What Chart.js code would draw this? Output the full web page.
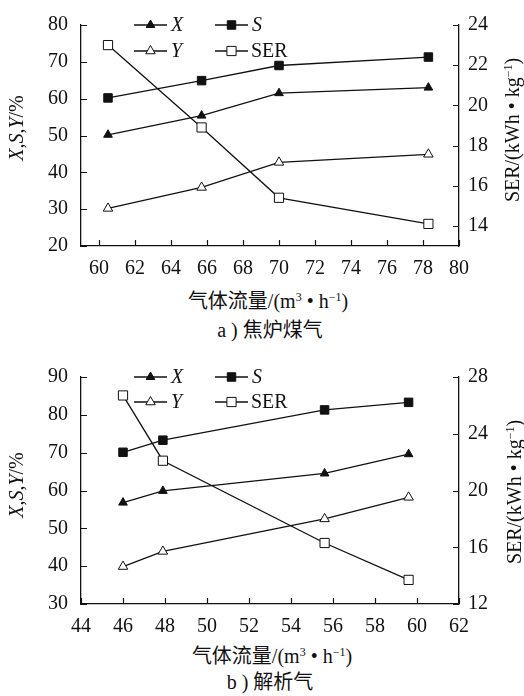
<!DOCTYPE html>
<html>
<head>
<meta charset="utf-8">
<script src="https://cdn.jsdelivr.net/npm/chart.js@4.4.0/dist/chart.umd.min.js"></script>
<style>
  html, body { margin: 0; padding: 0; background: #fff; }
  body { width: 524px; height: 696px; position: relative; overflow: hidden;
         font-family: "Liberation Serif", "Times New Roman", "DejaVu Serif", "Noto Sans CJK SC", serif; color: #111; }
  .box { position: absolute; left: 0; width: 524px; height: 290px; }
  .lbl { position: absolute; font-size: 20px; white-space: nowrap; line-height: 1; }
  .rot { transform: translate(-50%, -50%) rotate(-90deg); }
  .ctr { transform: translate(-50%, -50%); }
  sup { font-size: 60%; vertical-align: 0.55em; line-height: 0; }
</style>
</head>
<body>
<div class="box" style="top:0"><canvas id="chartA"></canvas></div>
<div class="box" style="top:350px"><canvas id="chartB"></canvas></div>

<!-- axis titles and captions -->
<div class="lbl rot" style="left:16px;top:128px"><i>X</i>,<i>S</i>,<i>Y</i>/%</div>
<div class="lbl rot" style="left:512px;top:130px">SER/(kWh • kg<sup>−1</sup>)</div>
<div class="lbl ctr" style="left:268px;top:301px">气体流量/(m<sup>3</sup> • h<sup>−1</sup>)</div>
<div class="lbl ctr" style="left:270px;top:330px">a ) 焦炉煤气</div>

<div class="lbl rot" style="left:16px;top:485px"><i>X</i>,<i>S</i>,<i>Y</i>/%</div>
<div class="lbl rot" style="left:514px;top:492px">SER/(kWh • kg<sup>−1</sup>)</div>
<div class="lbl ctr" style="left:272px;top:656px">气体流量/(m<sup>3</sup> • h<sup>−1</sup>)</div>
<div class="lbl ctr" style="left:270px;top:682px">b ) 解析气</div>

<script>
// a) coke oven gas
const flowA = [60.5, 65.7, 70.0, 78.3];
const xA    = [50.2, 55.4, 61.5, 63.0];
const sA    = [60.2, 64.9, 69.0, 71.3];
const yA    = [30.2, 35.9, 42.7, 44.9];
const serA  = [23.0, 18.9, 15.4, 14.1];
const flowTicksA  = [60, 62, 64, 66, 68, 70, 72, 74, 76, 78, 80];
const leftTicksA  = [20, 30, 40, 50, 60, 70, 80];
const rightTicksA = [14, 16, 18, 20, 22, 24];

// b) desorption gas
const flowB = [46.0, 47.9, 55.6, 59.6];
const xB    = [56.8, 59.9, 64.5, 69.6];
const sB    = [70.1, 73.3, 81.3, 83.3];
const yB    = [39.9, 43.9, 52.5, 58.2];
const serB  = [26.7, 22.1, 16.3, 13.7];
const flowTicksB  = [44, 46, 48, 50, 52, 54, 56, 58, 60, 62];
const leftTicksB  = [30, 40, 50, 60, 70, 80, 90];
const rightTicksB = [12, 16, 20, 24, 28];

const seriesNames = ['X', 'S', 'Y', 'SER'];

const INK = '#111';
const SERIF = '"Liberation Serif", "Times New Roman", "DejaVu Serif", serif';
Chart.defaults.font.family = SERIF;
Chart.defaults.color = INK;

function marker(ctx, style, r, x, y, filled) {
  ctx.beginPath();
  if (style === 'triangle') {
    for (let k = 0; k < 3; k++) {
      const a = k * 2 * Math.PI / 3;
      const px = x + Math.sin(a) * r, py = y - Math.cos(a) * r;
      k ? ctx.lineTo(px, py) : ctx.moveTo(px, py);
    }
    ctx.closePath();
  } else {
    const h = r * Math.SQRT1_2;
    ctx.rect(x - h, y - h, 2 * h, 2 * h);
  }
  ctx.fillStyle = filled ? INK : '#fff';
  ctx.fill();
  ctx.lineWidth = 1;
  ctx.strokeStyle = INK;
  ctx.stroke();
}

// legend drawn inside the plot, two columns
const innerLegend = {
  id: 'innerLegend',
  afterDatasetsDraw(chart, args, opts) {
    const { ctx, chartArea } = chart;
    const cols = [chartArea.left + 53, chartArea.left + 134];
    chart.data.datasets.forEach((ds, i) => {
      const x0 = cols[i % 2];
      const y0 = chartArea.top + Math.floor(i / 2) * opts.rowGap;
      ctx.save();
      ctx.strokeStyle = INK;
      ctx.lineWidth = 1.3;
      ctx.beginPath();
      ctx.moveTo(x0, y0);
      ctx.lineTo(x0 + 33, y0);
      ctx.stroke();
      marker(ctx, ds.pointStyle, ds.pointRadius, x0 + 16.5, y0, ds.pointBackgroundColor === INK);
      const name = seriesNames[i];
      ctx.font = (name === 'SER' ? '' : 'italic ') + '20px ' + SERIF;
      ctx.fillStyle = INK;
      ctx.textBaseline = 'middle';
      ctx.fillText(name, x0 + (name === 'SER' ? 36 : 37), y0 + 1);
      ctx.restore();
    });
  }
};

// short tick marks pointing into the plot
const innerTicks = {
  id: 'innerTicks',
  afterDraw(chart) {
    const { ctx, chartArea, scales } = chart;
    ctx.save();
    ctx.strokeStyle = INK;
    ctx.lineWidth = 1.2;
    ctx.beginPath();
    scales.x.ticks.forEach(t => {
      const p = Math.round(scales.x.getPixelForValue(t.value)) + 0.5;
      ctx.moveTo(p, chartArea.bottom);
      ctx.lineTo(p, chartArea.bottom - 6);
    });
    scales.yL.ticks.forEach(t => {
      const p = Math.round(scales.yL.getPixelForValue(t.value)) + 0.5;
      ctx.moveTo(chartArea.left, p);
      ctx.lineTo(chartArea.left + 6, p);
    });
    scales.yR.ticks.forEach(t => {
      const p = Math.round(scales.yR.getPixelForValue(t.value)) + 0.5;
      ctx.moveTo(chartArea.right, p);
      ctx.lineTo(chartArea.right - 6, p);
    });
    ctx.stroke();
    ctx.restore();
  }
};

function pts(xs, ys) {
  return xs.map((x, i) => ({ x: x, y: ys[i] }));
}

function series(data, style, filled, r, axis) {
  return {
    data: data,
    yAxisID: axis,
    showLine: true,
    borderColor: INK,
    borderWidth: 1.3,
    pointStyle: style,
    pointRadius: r,
    pointHoverRadius: r,
    pointBorderWidth: 1,
    pointBorderColor: INK,
    pointBackgroundColor: filled ? INK : '#fff',
    clip: false
  };
}

function axisStyle(ticks, pad) {
  return {
    grid: { display: false, drawTicks: false },
    border: { color: INK, width: 1.3 },
    ticks: { font: { size: 20 }, color: INK, padding: pad, autoSkip: false, maxRotation: 0 },
    afterBuildTicks: s => { s.ticks = ticks.map(v => ({ value: v })); }
  };
}

function makeChart(id, flow, xs, ss, ys, sers, cfg) {
  const x = axisStyle(cfg.flowTicks, 11);
  x.type = 'linear'; x.position = 'bottom';
  x.min = cfg.flowMin; x.max = cfg.flowMax;
  x.afterFit = s => { s.height = cfg.xAxisH; };

  const yL = axisStyle(cfg.leftTicks, 13);
  yL.type = 'linear'; yL.position = 'left';
  yL.min = cfg.leftMin; yL.max = cfg.leftMax;
  yL.afterFit = s => { s.width = 81; };

  const yR = axisStyle(cfg.rightTicks, 9);
  yR.type = 'linear'; yR.position = 'right';
  yR.min = cfg.rightMin; yR.max = cfg.rightMax;
  yR.afterFit = s => { s.width = 65; };

  return new Chart(document.getElementById(id), {
    type: 'scatter',
    data: {
      datasets: [
        series(pts(flow, xs), 'triangle', true, 5, 'yL'),
        series(pts(flow, ss), 'rect', true, 6, 'yL'),
        series(pts(flow, ys), 'triangle', false, 5.5, 'yL'),
        series(pts(flow, sers), 'rect', false, 6.5, 'yR')
      ]
    },
    options: {
      responsive: true,
      maintainAspectRatio: false,
      animation: false,
      layout: { padding: { top: cfg.padTop, left: 0, right: 0, bottom: 0 } },
      scales: { x: x, yL: yL, yR: yR },
      plugins: {
        legend: { display: false },
        tooltip: { enabled: false },
        innerLegend: { rowGap: cfg.rowGap }
      }
    },
    plugins: [innerLegend, innerTicks]
  });
}

makeChart('chartA', flowA, xA, sA, yA, serA, {
  flowTicks: flowTicksA, flowMin: 59, flowMax: 80,
  leftTicks: leftTicksA, leftMin: 20, leftMax: 80,
  rightTicks: rightTicksA, rightMin: 13, rightMax: 24,
  padTop: 19, xAxisH: 44, rowGap: 26
});

makeChart('chartB', flowB, xB, sB, yB, serB, {
  flowTicks: flowTicksB, flowMin: 44, flowMax: 62,
  leftTicks: leftTicksB, leftMin: 30, leftMax: 90,
  rightTicks: rightTicksB, rightMin: 12, rightMax: 28,
  padTop: 27, xAxisH: 36, rowGap: 25
});
</script>
</body>
</html>
